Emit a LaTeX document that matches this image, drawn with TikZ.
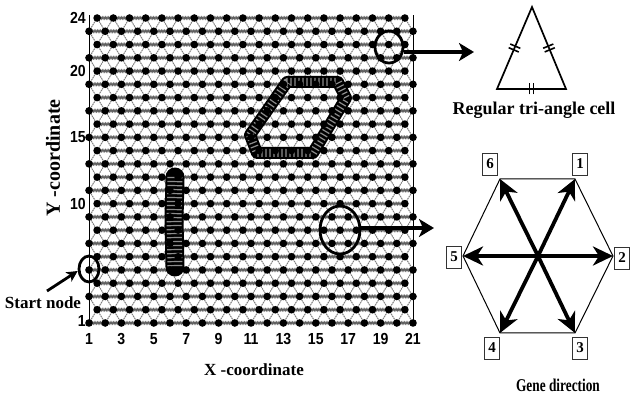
\documentclass[tikz,border=0pt]{standalone}
\usepackage{fontspec}
\setmainfont{Liberation Serif}
\setsansfont{Liberation Sans}
\usetikzlibrary{arrows.meta,decorations.pathmorphing,decorations.markings,shapes.geometric,calc}
\newcommand{\myfs}[1]{\fontsize{#1}{#1}\selectfont}
\begin{document}
\begin{tikzpicture}[x=1pt,y=-1pt,
  hedge/.style={draw=black!62, line width=1pt, decorate, decoration={zigzag, amplitude=1pt, segment length=1.6pt}},
  dedge/.style={draw=black!50, line width=1pt, dash pattern=on 1.6pt off 0.7pt},
  latdot/.style={fill=black},
  axisline/.style={draw=black, line width=0.9pt},
  obst/.style={draw=black, line width=12pt, line join=round, line cap=round},
  specks/.style={draw=white, line width=8pt, dash pattern=on 1.2pt off 2.8pt, opacity=0.55, line join=round},
  ring/.style={draw=black, line width=2.8pt, ellipse, inner sep=0pt},
  arr/.style={draw=black, line width=2.8pt, -{Stealth[length=11pt,width=11pt,inset=3pt]}},
  bigarr/.style={draw=black, line width=3.2pt, -{Stealth[length=15pt,width=18pt,inset=4pt]}},
  genearr/.style={draw=black, line width=3.8pt, -{Stealth[length=20pt,width=19pt,inset=6pt]}},
  hexline/.style={draw=black, line width=1pt, line join=miter},
  triline/.style={draw=black, line width=1.7pt, line join=miter},
  ticks/.style={postaction={decorate}, decoration={markings, mark=at position 0.5 with {\draw[line width=1.6pt] (-2pt,-5.5pt) -- (-2pt,5.5pt) (2pt,-5.5pt) -- (2pt,5.5pt);}}},
  numbox/.style={draw=black!80, line width=0.6pt, minimum width=15pt, minimum height=22pt, inner sep=0pt, font=\myfs{15}\bfseries},
  ticklab/.style={font=\sffamily\bfseries\myfs{16}, inner sep=0pt, xscale=0.88},
  lab/.style={font=\bfseries\myfs{17}, inner sep=0pt}
]
\useasboundingbox (0,0) rectangle (633,398);

% ---------- lattice ----------
\begin{scope}[shift={(89pt,-323pt)}, x=16.2pt, y=13.26pt]
  \foreach \v in {0,2,...,22} \draw[hedge] (0,\v) -- (20,\v);
  \foreach \v in {1,3,...,23} \draw[hedge] (0.5,\v) -- (19.5,\v);
  \foreach \c in {-11,...,19} {
    \pgfmathsetmacro{\vs}{max(0,-2*(\c))}
    \pgfmathsetmacro{\ve}{min(23,2*(20-(\c)))}
    \draw[dedge] ({\c+\vs/2},\vs) -- ({\c+\ve/2},\ve);
  }
  \foreach \c in {1,...,31} {
    \pgfmathsetmacro{\vs}{max(0,2*(\c-20))}
    \pgfmathsetmacro{\ve}{min(23,2*\c)}
    \draw[dedge] ({\c-\vs/2},\vs) -- ({\c-\ve/2},\ve);
  }
  \draw[axisline] (0,0) -- (0,23.2);
  \draw[axisline, line width=0.7pt] (20,0) -- (20,23.2);
\end{scope}

% ---------- obstacles ----------
\draw[obst] (250,135) -- (287,82) -- (338,82) -- (346,98) -- (313,153) -- (257,153) -- cycle;
\draw[specks] (250,135) -- (287,82) -- (338,82) -- (346,98) -- (313,153) -- (257,153) -- cycle;
\draw[obst, line width=19pt] (175,177) -- (174,220) -- (175,267);
\draw[specks, line width=15pt] (175,177) -- (174,220) -- (175,267);

% ---------- lattice dots ----------
\begin{scope}[shift={(89pt,-323pt)}, x=16.2pt, y=13.26pt]
  \foreach \v in {0,2,...,22} \foreach \u in {0,...,20} \fill[latdot] (\u,\v) circle[radius=3.8pt];
  \foreach \v in {1,3,...,23} \foreach \u in {0,...,19} \fill[latdot] (\u+0.5,\v) circle[radius=3.8pt];
\end{scope}

% ---------- tick labels ----------
\foreach \k in {1,3,...,21} \node[ticklab] (x\k) at ({89+(\k-1)*16.2},339) {\k};
\node[ticklab, anchor=east] (y24) at (86,18) {24};
\node[ticklab, anchor=east] (y20) at (86,71) {20};
\node[ticklab, anchor=east] (y15) at (86,137.4) {15};
\node[ticklab, anchor=east] (y10) at (86,203.7) {10};
\node[ticklab, anchor=east] (y1) at (86,321) {1};

% ---------- axis titles ----------
\node[lab] (xt) at (254,370) {X -coordinate};
\node[lab, font=\bfseries\myfs{20}, rotate=90] (yt) at (53,158) {Y -coordinate};

% ---------- circles and arrows ----------
\node[ring, minimum width=20pt, minimum height=26pt] (st) at (89,269) {};
\node[ring, minimum width=28pt, minimum height=32pt] (c1) at (389,47) {};
\node[ring, minimum width=40pt, minimum height=48pt] (c2) at (340,230) {};

\node[lab] (stlab) at (43,303) {Start node};
\coordinate (sa) at (47,291);
\draw[arr] (sa) -- (st.190);

\coordinate (t1) at (474,52);
\draw[bigarr] (c1.east |- t1) -- (t1);
\coordinate (t2) at (434,228);
\draw[bigarr] (c2.east |- t2) -- (t2);

% ---------- triangle ----------
\coordinate (ta) at (532,7);
\coordinate (tb) at (497,89);
\coordinate (tc) at (566,89);
\draw[triline] (ta) -- (tb) -- (tc) -- cycle;
\path[ticks] (ta) -- (tb);
\path[ticks] (ta) -- (tc);
\path[ticks] (tb) -- (tc);
\node[lab, font=\bfseries\myfs{18}] (trilab) at (534,110) {Regular tri-angle  cell};

% ---------- hexagon ----------
\coordinate (hc) at (538,256);
\coordinate (h1) at (575,179);
\coordinate (h2) at (613,256);
\coordinate (h3) at (575,333);
\coordinate (h4) at (500,333);
\coordinate (h5) at (463,256);
\coordinate (h6) at (500,179);
\draw[hexline] (h1) -- (h2) -- (h3) -- (h4) -- (h5) -- (h6) -- cycle;
\foreach \i in {1,...,6} \draw[genearr] (hc) -- (h\i);

\node[numbox] (b1) at (580,164) {1};
\node[numbox] (b2) at (622,258) {2};
\node[numbox] (b3) at (580,348) {3};
\node[numbox] (b4) at (492,348) {4};
\node[numbox] (b5) at (454,257) {5};
\node[numbox] (b6) at (490,164) {6};

\node[lab, font=\bfseries\myfs{18}, xscale=0.74] (genlab) at (558,385) {Gene  direction};
\end{tikzpicture}
\end{document}
